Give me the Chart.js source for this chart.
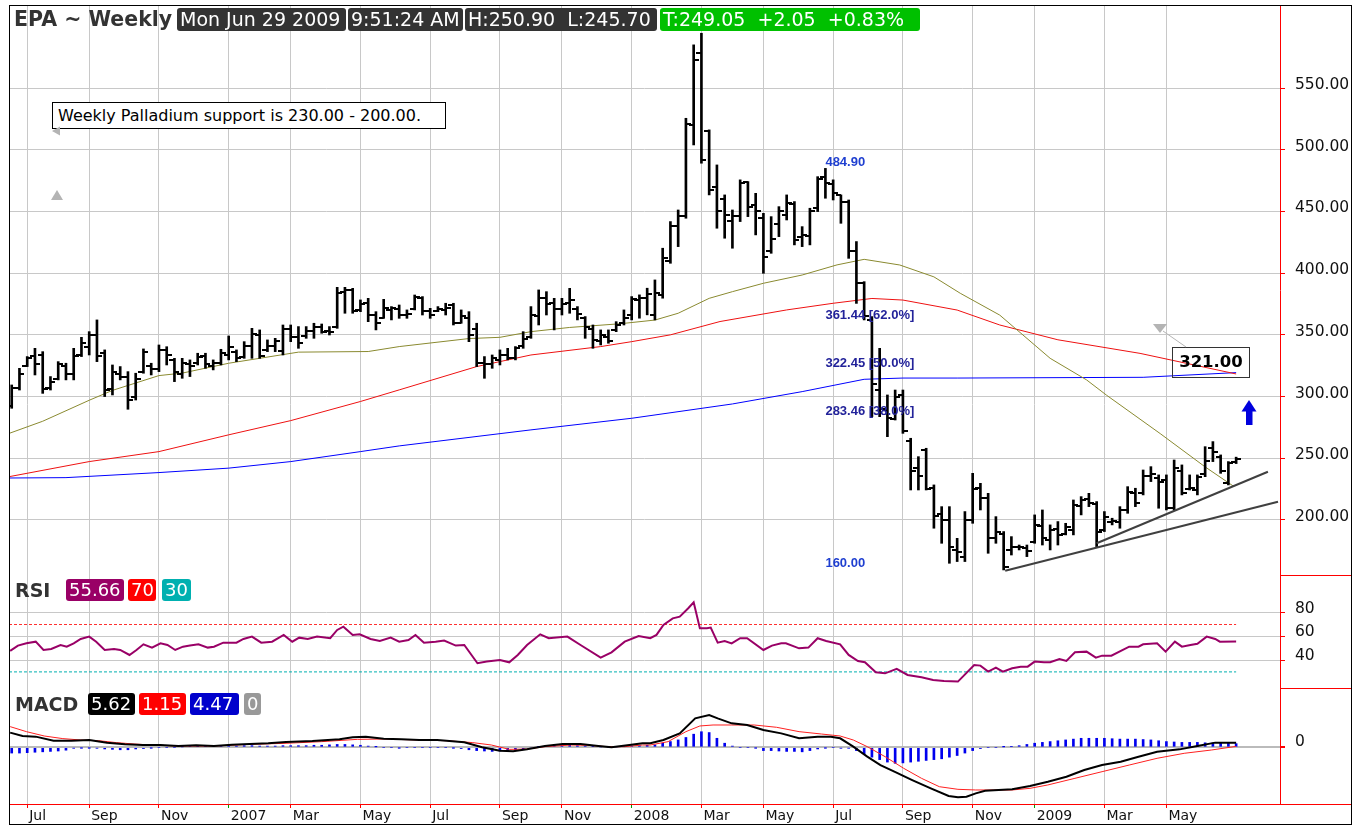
<!DOCTYPE html>
<html><head><meta charset="utf-8">
<script src="https://cdn.jsdelivr.net/npm/chart.js@4.4.1/dist/chart.umd.min.js"></script>
<style>
html,body{margin:0;padding:0;background:#fff;}
#wrap{position:relative;width:1363px;height:827px;overflow:hidden;font-family:'DejaVu Sans',sans-serif;}
#c{position:absolute;left:0;top:0;}
.t{position:absolute;white-space:pre;}
.bx{position:absolute;color:#fff;border-radius:3px;white-space:pre;box-sizing:border-box;padding-left:3px;}
</style></head><body>
<div id="wrap">
<canvas id="c" width="1363" height="827" style="width:1363px;height:827px"></canvas>
<div class="t" style="left:14px;top:8px;font-size:20.5px;font-weight:bold;color:#333;line-height:23px">EPA ~ Weekly</div>
<div class="bx" style="left:177px;top:8px;width:169px;height:23px;line-height:23px;font-size:19px;background:#333">Mon Jun 29 2009</div>
<div class="bx" style="left:348px;top:8px;width:115px;height:23px;line-height:23px;font-size:19px;background:#333">9:51:24 AM</div>
<div class="bx" style="left:465px;top:8px;width:192px;height:23px;line-height:23px;font-size:19px;background:#333">H:250.90  L:245.70</div>
<div class="bx" style="left:660px;top:8px;width:260px;height:23px;line-height:23px;font-size:19px;background:#00c000">T:249.05  +2.05  +0.83%</div>

<div class="t" style="left:15px;top:579px;font-size:19px;font-weight:bold;color:#333;line-height:22px">RSI</div>
<div class="bx" style="left:66px;top:579px;width:58px;height:22px;line-height:22px;font-size:18px;background:#990066">55.66</div>
<div class="bx" style="left:128px;top:579px;width:28px;height:22px;line-height:22px;font-size:18px;background:#ff0000">70</div>
<div class="bx" style="left:162px;top:579px;width:29px;height:22px;line-height:22px;font-size:18px;background:#00b0b0">30</div>

<div class="t" style="left:15px;top:693px;font-size:19px;font-weight:bold;color:#333;line-height:22px">MACD</div>
<div class="bx" style="left:88px;top:693px;width:47px;height:22px;line-height:22px;font-size:18px;background:#000">5.62</div>
<div class="bx" style="left:139px;top:693px;width:47px;height:22px;line-height:22px;font-size:18px;background:#ff0000">1.15</div>
<div class="bx" style="left:190px;top:693px;width:49px;height:22px;line-height:22px;font-size:18px;background:#0000cc">4.47</div>
<div class="bx" style="left:244px;top:693px;width:17px;height:22px;line-height:22px;font-size:18px;background:#999">0</div>

<div class="t" style="left:52px;top:102px;width:394px;height:27px;box-sizing:border-box;border:1px solid #000;background:#fff;font-size:16px;line-height:25px;padding-left:5px;color:#000">Weekly Palladium support is 230.00 - 200.00.</div>
<div class="t" style="left:1172px;top:347px;width:78px;height:31px;box-sizing:border-box;border:1.5px solid #333;font-size:16.5px;font-weight:bold;line-height:28px;text-align:center;color:#000">321.00</div>

<svg width="1363" height="827" style="position:absolute;left:0;top:0">
 <polygon points="51,200 63,200 57,190" fill="#b4b4b4"/>
 <polygon points="52,131 60,126.5 60,135.5" fill="#b4b4b4"/>
 <polygon points="1153,324 1167,324 1160,333" fill="#b4b4b4"/>
 <line x1="1163" y1="331" x2="1186" y2="347" stroke="#b4b4b4" stroke-width="1"/>
 <polygon points="1241.5,411.5 1256.5,411.5 1249,400" fill="#0000dd"/>
 <rect x="1246" y="411" width="6.5" height="14" fill="#0000dd"/>
</svg>
</div>
<script>
// Weekly bars, index 0 = week of 19 Jun 2006, index 158 = week of 29 Jun 2009
const tickWeeks  = [2,10,19,28,36,45,54,63,71,80,89,97,106,115,124,132,141,149];
const tickLabels = ['Jul','Sep','Nov','2007','Mar','May','Jul','Sep','Nov','2008','Mar','May','Jul','Sep','Nov','2009','Mar','May'];
const priceTicks = [200,250,300,350,400,450,500,550];
const rsiTicks = [40,60,80];
const macdTicks = [0];

const open = [
292,307,325,333,334,307,314,325,318,334,
340,350,335,306,318,316,300,320,325,322,
338,330,318,326,327,333,325,327,334,336,
332,341,350,338,341,337,355,348,349,353,
356,353,356,385,386,370,376,366,364,370,
371,366,371,380,369,369,370,374,360,364,
355,327,326,330,334,331,341,348,365,380,
376,371,376,371,364,355,345,348,354,360,
366,378,380,366,382,410,438,446,520,578,
515,470,460,442,446,474,455,445,418,440,
447,456,429,430,453,478,472,463,458,418,
392,362,305,289,282,301,264,242,257,226,
205,200,176,170,200,226,218,185,189,176,
178,177,182,195,184,193,189,192,211,217,
213,192,198,198,208,222,222,236,234,232,
210,240,225,224,237,258,251,230,247];
const high = [
309.4,322.9,332.4,339.1,336.4,316.2,328.3,327,339.1,348,
352.6,362.1,337.8,325.6,324.3,320.2,318.9,338.6,327,341.8,
340.4,331,331,329.7,335.1,335.1,329.7,338.3,349.1,337.8,
344.5,355.3,354,345.9,347.2,358,358,356.7,356.7,359.4,
358.8,356.7,388.5,388.5,387.7,378.3,379.6,368.8,378.8,372.9,
374.2,370.2,382.3,381,371.5,372.9,375.6,375.6,370.2,368.8,
359.4,332.4,333.7,337.8,339.1,340.5,352.6,372.9,386.4,385,
379.6,379.6,387.7,372.9,364.8,358,354,354,360.7,370.2,
381,382.4,387.8,394.5,420.2,441.8,451.2,525.5,585,594.4,
516.1,487.7,463.4,451.2,475.6,474.2,464.7,448.5,445.8,453.9,
463.4,458,437.7,452.6,478.2,484.9,475.6,463.4,459.3,425.6,
393.1,364.8,339.1,301.3,305.3,305.3,266.2,251.3,258.1,228.4,
210.8,210.8,185.1,206.8,237.8,229.7,221.6,202.7,190.6,186.5,
179.7,179.7,204.1,208.1,196,198.7,197.3,216.2,218.9,221.6,
214.9,206.8,201.4,210.8,227,225.7,240.5,243.2,236.5,236.5,
248.6,244.6,236.5,236.5,259.4,263.5,252.7,247.3,250.9];
const low = [
290.5,305.3,324.3,317.5,302.6,305.3,313.5,313.5,313.5,332.4,
333.7,328.3,300,301.3,313.5,289.7,297.2,318.9,317.5,320.2,
325.6,312.1,314.8,316.2,325.6,322.9,321.6,325.6,329.7,328.3,
331,331,331,336.4,336.4,333.7,344.5,339.1,347.2,347.2,
351.3,349.9,355.3,367.5,367.5,368.8,360.7,354,363.4,362.1,
363.4,363.4,370.2,366.1,363.4,368.8,366.1,358,359.4,344.5,
324.3,314.8,322.9,325.6,329.7,329.7,339.1,347.2,358,366.1,
354,366.1,367.5,362.1,347.2,339.1,341.8,343.2,352.6,358,
362.1,363.5,366.2,362.1,379.7,408,421.5,444.5,503.9,489.1,
463.4,436.4,428.3,420.2,441.8,445.8,431,399.9,416.1,429.6,
443.1,422.9,421.5,422.9,449.9,460.7,459.3,440.4,412,375.5,
362.1,283.7,283.7,267.5,281,270.2,224.3,224.3,224.3,193.3,
181.1,164.9,166.3,166.3,197.3,208.1,173,181.1,159.5,171.6,
175.7,170.3,181.1,179.7,175.7,179.7,187.9,187.9,204.1,210.8,
178.4,190.6,196,193.3,205.4,210.8,220.3,231.1,209.5,208.1,
208.1,220.3,224.3,220.3,235.1,247.3,237.8,228.4,245.7];
const close = [
307,318,331,326,306,312,326,318,333,343,
350,333,305,320,316,297,314,336,322,338,
334,320,327,325,332,326,327,335,340,331,
341,351,333,341,345,355,348,343,353,356,
352,352,384,386,369,375,366,360,372,372,
366,367,381,369,366,371,372,360,365,350,
327,326,331,334,331,339,347,366,380,375,
371,375,378,367,356,346,350,345,358,364,
379,380,383,384,412,438,446,521,573,492,
467,450,447,446,473,454,450,413,428,450,
457,427,431,450,476,473,465,458,418,392,
365,310,290,283,300,272,240,236,225,203,
200,178,174,200,225,218,185,190,162,178,
178,175,196,185,192,188,194,212,216,214,
190,202,199,208,223,214,236,237,231,210,
242,222,226,235,248,255,240,246,249.05];

// moving averages read at sample weeks
const maFastWeek = [-0.4,4,10,13,16,19,22,28,35,37,46,50,59,63,67,72,78.5,83,86,90,93,97,102,106.5,110,114.6,119,122.4,127.5,134,138.7,141.3,148.2,154,157.6];
const maFastVal  = [270,280,297,305,311,317,319,327,334,336,336.5,340.5,347,348,352.6,356,359,362,367.5,379.6,385,391.8,398.5,406.7,411.2,406.6,397,383.7,366,331,313.5,301,270,243,227.6];
const maMidWeek = [-0.4,10,19,28,36,45,50,60,67,76,80,85,91.4,100,106,111,115,122,127.5,135,145.6,158];
const maMidVal  = [235,247.3,255.4,269,280.5,296,305.4,324.3,333.7,340.5,344.5,350,360.8,370.2,375.6,379.5,378.2,370.1,358,346,335,318.3];
const maSlowWeek = [-0.4,7,19,28,36,45,50,67,80,93,102,110,115,122,146,158];
const maSlowVal  = [234,234.3,238.4,242,247.3,255.4,260,273,282.4,294,304,314,315,315,315.6,319.4];

// trend lines (week, price)
const trend1Week = [128.2,163.4], trend1Val = [158.9,214.8];
const trend2Week = [140,162.1],   trend2Val = [181.1,239.1];

// Fibonacci labels
const fibWeek = 105;
const fibLabels = ['484.90','361.44 [62.0%]','322.45 [50.0%]','283.46 [38.0%]','160.00'];
const fibValues = [484.9,361.44,322.45,283.46,160];
const fibColors = ['#1f3fd0','#23239a','#23239a','#23239a','#1f3fd0'];

// RSI
const rsiWeek = [-0.2,0.8,1.9,3.1,4.1,5.1,6.3,7.1,8,8.9,10,10.9,12,13.2,14,15.2,16.1,17,18.1,19.2,20.1,21.1,22.1,23,24.1,25.3,26.1,27.3,29,29.9,31,32.2,33.6,35.1,36.2,37.1,38.2,39.4,41.1,42,42.8,44,44.9,46.3,47.5,48.9,50,51.2,52.1,53.2,54.7,55.8,57.3,58.4,60.1,61.3,63,64.2,65.3,66.5,68.2,69.3,71.7,73.4,76,77.4,79.1,80.9,82.4,83.2,84.1,85.3,86.2,87.3,88,88.8,89.7,90.2,91.1,92,92.9,94,94.9,97,98.1,99.3,99.9,101.6,102.8,104,105.1,106.9,108,109.2,110.1,111.5,112.7,114.2,115.6,117.4,118.9,120.3,122.1,124.2,125,126,127,127.9,129.1,130.2,131.1,132,133.2,134,135.2,136.1,137.2,138.7,139.9,140.7,141.9,144.2,145.4,146,147.8,148.9,150.1,151,152.1,153,154.2,155.3,155.9,158];
const rsiVal  = [47.7,52.2,54.1,55.5,48.5,49.4,52.7,51.3,54.1,57.8,59.8,55.5,48.5,49.4,48.5,44.3,48.5,53.3,50.5,54.1,52.7,48.5,51.3,52.2,53.3,50.5,51.3,54.7,54.7,57.8,59.8,54.7,55.5,61.2,55.5,58.9,57.8,59.8,58.4,65.4,68.2,61.2,61.7,57.8,56.1,58.9,55.5,56.9,61.2,54.7,55.5,56.4,52.2,52.7,37.3,38.7,40.1,38.1,44.3,52.7,61.7,58.4,59.8,52.7,42,46.5,55.5,60.3,58.4,61.2,69.6,75.2,76.6,83.7,88.7,66.8,66.8,67.4,54.7,56.1,54.1,58.4,58.4,48.5,52.2,54.1,54.1,49.9,50.5,58.4,56.1,53.3,44.3,39.2,38.1,29.7,28.8,32.5,27.4,25.4,23.2,22.3,21.8,35.8,35.3,30.2,33.6,30.2,33,34.4,34.4,38.7,38.1,38.1,40.9,39.2,46.5,47.1,42,43.7,43.7,51.3,51.3,53.3,54.1,47.1,55.5,51.3,52.7,53.8,59.8,57.8,55.5,55.66];
const rsiLevels = [70,30];

// MACD
const macdWeek = [-0.2,1.4,3.1,5.4,7.7,10,12.3,14.6,16.9,19.2,21.5,23.8,26.1,28.4,30.7,33.1,35.4,38.8,42.3,44,45.7,48,50.3,52.6,54.9,56.1,58.4,60.7,63,64.7,66.5,68.8,71.1,73.4,75.7,77.4,79.7,81.4,82.4,84.1,86.2,88.2,90,91.1,92.9,94.9,97,99.3,101.6,104,105.7,106.9,108.6,110.4,112.1,113.9,116.2,118.6,120.9,122.1,123.2,124.4,125.6,129.1,131.4,133.7,136.1,138.4,140.7,143.1,145.4,147.8,150.7,153,155.3,157.6,158];
const macdVal  = [17.9,13.8,13,8.1,8.1,8.9,5.7,3.6,2.8,2.8,1.6,2.4,1.6,3.2,4,4.9,6.5,7.7,9.7,12.2,13,10.5,9.7,8.9,8.9,8.1,6.1,0,-4.1,-4.9,-2.4,1.6,4,4,1.6,0,2.8,4.9,4.9,8.9,17,35.3,39.4,35.3,29.2,27.2,21.1,17,11,13,13,11,0.8,-11.4,-21.6,-29.7,-39.9,-50,-59.4,-61,-60.2,-56.1,-52.9,-51.2,-47.2,-41.9,-35.8,-27.7,-21.6,-17.5,-11.4,-5.3,-2.5,1.6,5.7,5.6,5.62];
const signalWeek = [-0.2,1.9,4.2,6.6,8.9,11.2,13.5,15.8,18.1,21.5,26.1,30.7,35.4,40,44.6,48,52.6,56.1,59.5,61.9,64.2,66.5,68.8,72.2,74.5,76.8,79.1,81.4,82.4,84.7,87,88.8,90.5,92.9,95.8,98.7,101.6,104.5,106.9,108.6,110.4,112.7,115.1,117.4,119.7,122.1,124.4,126.7,129.1,131.4,133.7,137.2,140.7,144.2,147.8,151.3,154.8,158];
const signalVal  = [25.2,19.1,13.8,10.6,8.9,8.1,5.7,4,2.8,1.6,1.6,3.6,4.9,6.9,9.7,10.1,8.9,8.1,5.7,2.8,-2.5,-2.1,0.8,2.8,2.4,0.8,0.8,2.8,2.8,6.9,19.1,26,27.2,27.2,27.2,24.4,19.1,16.2,13.8,8.9,0.8,-11.4,-25.6,-37.8,-48,-51.2,-52,-52,-52,-50,-45.9,-37.8,-29.7,-21.6,-13.4,-7.3,-3.3,1.15];
const histVal = [
-7,-7,-6.5,-6,-5.5,-5,-4.5,-3.5,
-1,-0.5,-0.5,-1,
-2,-2.5,-3,-3,-2,-1.5,
-0.5,0,0,0,
0.5,1,1,1,1,1.5,1.5,1.5,2,2,1.5,1.5,1.5,2,2,2,2,2.5,2.5,
3,3.5,3.5,3,2.5,1.5,0.5,
0,0,-0.5,0,0,0,0,0,0,
-0.5,-1.5,-3,-4,-4.5,-5,-4.5,-4,-3,-2,-1,0.5,
1.5,2,2.5,2.5,2,1.5,1,0.5,0,0.5,
1,1.5,2,2.5,
3,5,7,9,12,16,19,18,11,5,1.5,
0,0,-0.5,
-4,-4,-4.5,-5,-5,-5.5,-4,-2,
-0.5,0,-1,
-1,-4,-8,-12,-15,-18,-19.5,-19,-18,-17,-16,-15,-14,-12,-10,-7,-4,-1.5,
0,0,0.5,
1,2,3.5,5,6,7,8,9,10,11,11,11,11,10.5,10,10,10,9.5,9,8,7,6.5,6,6,6,5.5,5.5,5,5,4.47];

const xMin = -0.35, xMax = 163.66;

function pts(xs, ys){ return xs.map((x,i)=>({x:x, y:ys[i]})); }
function tickImg(side){
  const c = document.createElement('canvas'); c.width = 10; c.height = 2;
  const g = c.getContext('2d'); g.fillStyle = '#000';
  g.fillRect(side === 'L' ? 0 : 5, 0, 5, 2);
  return c;
}
const openImg = tickImg('L'), closeImg = tickImg('R');

Chart.defaults.font.family = "'DejaVu Sans', sans-serif";

const frame = {
  id: 'frame',
  afterDraw(chart){
    const {ctx, chartArea:a, scales} = chart;
    ctx.save();
    ctx.strokeStyle = '#ff0000'; ctx.lineWidth = 1;
    ctx.beginPath();
    [scales.yR.top, scales.yM.top, a.bottom].forEach(y => {
      const yy = Math.round(y) + 0.5; ctx.moveTo(a.right, yy); ctx.lineTo(1352, yy);
    });
    ctx.stroke();
    ctx.strokeStyle = '#000';
    ctx.strokeRect(9.5, 5.5, 1342, 819);
    ctx.restore();
  }
};
const fibPlugin = {
  id: 'fib',
  afterDatasetsDraw(chart){
    const {ctx, scales:{x, yP}} = chart;
    ctx.save();
    ctx.font = "bold 13px 'Liberation Sans', Arial, sans-serif";
    ctx.textAlign = 'left'; ctx.textBaseline = 'bottom';
    fibLabels.forEach((t,k) => {
      ctx.fillStyle = fibColors[k];
      ctx.fillText(t, x.getPixelForValue(fibWeek), yP.getPixelForValue(fibValues[k]) + 1);
    });
    ctx.restore();
  }
};

const idx = open.map((_,i)=>i);
const gridGray = '#c8c8c8';
const noPad = s => { s.paddingTop = 0; s.paddingBottom = 0; s.paddingLeft = 0; s.paddingRight = 0; };
const yCommon = (ticksArr, fmt, lblOff, extra) => Object.assign({
  type:'linear', position:'right', stack:'panels', bounds:'data',
  afterBuildTicks: s => { s.ticks = ticksArr.map(v => ({value:v})); },
  afterFit: s => { s.width = 72; noPad(s); },
  ticks:{ callback: fmt, padding:10, labelOffset:lblOff, color:'#111', font:{size:15.5} },
  grid:{ color:gridGray, tickColor:'#ff0000', tickLength:5 },
  border:{ display:true, color:'#ff0000', width:1 }
}, extra);

new Chart(document.getElementById('c'), {
  type:'bar',
  data:{ datasets:[
    { type:'line', label:'trend1', data:pts(trend1Week, trend1Val), yAxisID:'yP', borderColor:'#404040', borderWidth:2, pointRadius:0, order:0 },
    { type:'line', label:'trend2', data:pts(trend2Week, trend2Val), yAxisID:'yP', borderColor:'#404040', borderWidth:2, pointRadius:0, order:0 },
    { type:'line', label:'open', data:idx.map(i=>({x:i,y:open[i]})), yAxisID:'yP', showLine:false, pointStyle:openImg, pointRadius:3, order:1 },
    { type:'line', label:'close', data:idx.map(i=>({x:i,y:close[i]})), yAxisID:'yP', showLine:false, pointStyle:closeImg, pointRadius:3, order:1 },
    { type:'bar', label:'range', data:idx.map(i=>({x:i,y:[low[i],high[i]]})), yAxisID:'yP', backgroundColor:'#000', barThickness:2, grouped:false, order:2 },
    { type:'line', label:'maFast', data:pts(maFastWeek, maFastVal), yAxisID:'yP', borderColor:'#8a8a30', borderWidth:1, pointRadius:0, order:5 },
    { type:'line', label:'maMid', data:pts(maMidWeek, maMidVal), yAxisID:'yP', borderColor:'#ee1111', borderWidth:1, pointRadius:0, order:5 },
    { type:'line', label:'maSlow', data:pts(maSlowWeek, maSlowVal), yAxisID:'yP', borderColor:'#0000ff', borderWidth:1, pointRadius:0, order:5 },
    { type:'line', label:'rsi70', data:[{x:xMin,y:rsiLevels[0]},{x:158,y:rsiLevels[0]}], yAxisID:'yR', borderColor:'#ff3030', borderWidth:1, borderDash:[3,2], pointRadius:0, order:6 },
    { type:'line', label:'rsi30', data:[{x:xMin,y:rsiLevels[1]},{x:158,y:rsiLevels[1]}], yAxisID:'yR', borderColor:'#00b0b0', borderWidth:1, borderDash:[3,2], pointRadius:0, order:6 },
    { type:'line', label:'rsi', data:pts(rsiWeek, rsiVal), yAxisID:'yR', borderColor:'#990066', borderWidth:2, pointRadius:0, order:3 },
    { type:'bar', label:'hist', data:idx.map(i=>({x:i,y:histVal[i]})), yAxisID:'yM', backgroundColor:'#0000ee', barThickness:2, grouped:false, order:7 },
    { type:'line', label:'signal', data:pts(signalWeek, signalVal), yAxisID:'yM', borderColor:'#ff2020', borderWidth:1, pointRadius:0, order:4 },
    { type:'line', label:'macd', data:pts(macdWeek, macdVal), yAxisID:'yM', borderColor:'#000', borderWidth:2, pointRadius:0, order:3 }
  ]},
  options:{
    responsive:false, devicePixelRatio:1, animation:false, events:[],
    layout:{ padding:{ left:9, right:11, top:5, bottom:2 } },
    plugins:{ legend:{display:false}, tooltip:{enabled:false} },
    elements:{ line:{ tension:0 } },
    scales:{
      x:{ type:'linear', position:'bottom', min:xMin, max:xMax, offset:false, bounds:'data',
        afterBuildTicks: s => { s.ticks = tickWeeks.map(v => ({value:v})); },
        afterFit: s => { s.height = 21; noPad(s); },
        ticks:{ autoSkip:false, maxRotation:0, minRotation:0, align:'start', labelOffset:2, padding:0, color:'#111', font:{size:14},
          callback:(v,i)=>tickLabels[i] },
        grid:{ color:gridGray, offset:false, tickLength:4,
          tickColor: c => /^\d{4}$/.test(tickLabels[c.index]) ? '#00a000' : '#ff0000' },
        border:{ display:true, color:'#ff0000', width:1 }
      },
      yP: yCommon(priceTicks, v => v.toFixed(2), -3, { stackWeight:570, min:155.4, max:617.3 }),
      yR: yCommon(rsiTicks, v => String(v), -4, { stackWeight:113, min:16.4, max:111.8 }),
      yM: yCommon(macdTicks, v => String(v), -5, { stackWeight:116, min:-69.1, max:72.3,
        grid:{ color:'#bbbbbb', lineWidth:2, tickColor:'#ff0000', tickLength:5 } })
    }
  },
  plugins:[frame, fibPlugin]
});
</script>
</body></html>
